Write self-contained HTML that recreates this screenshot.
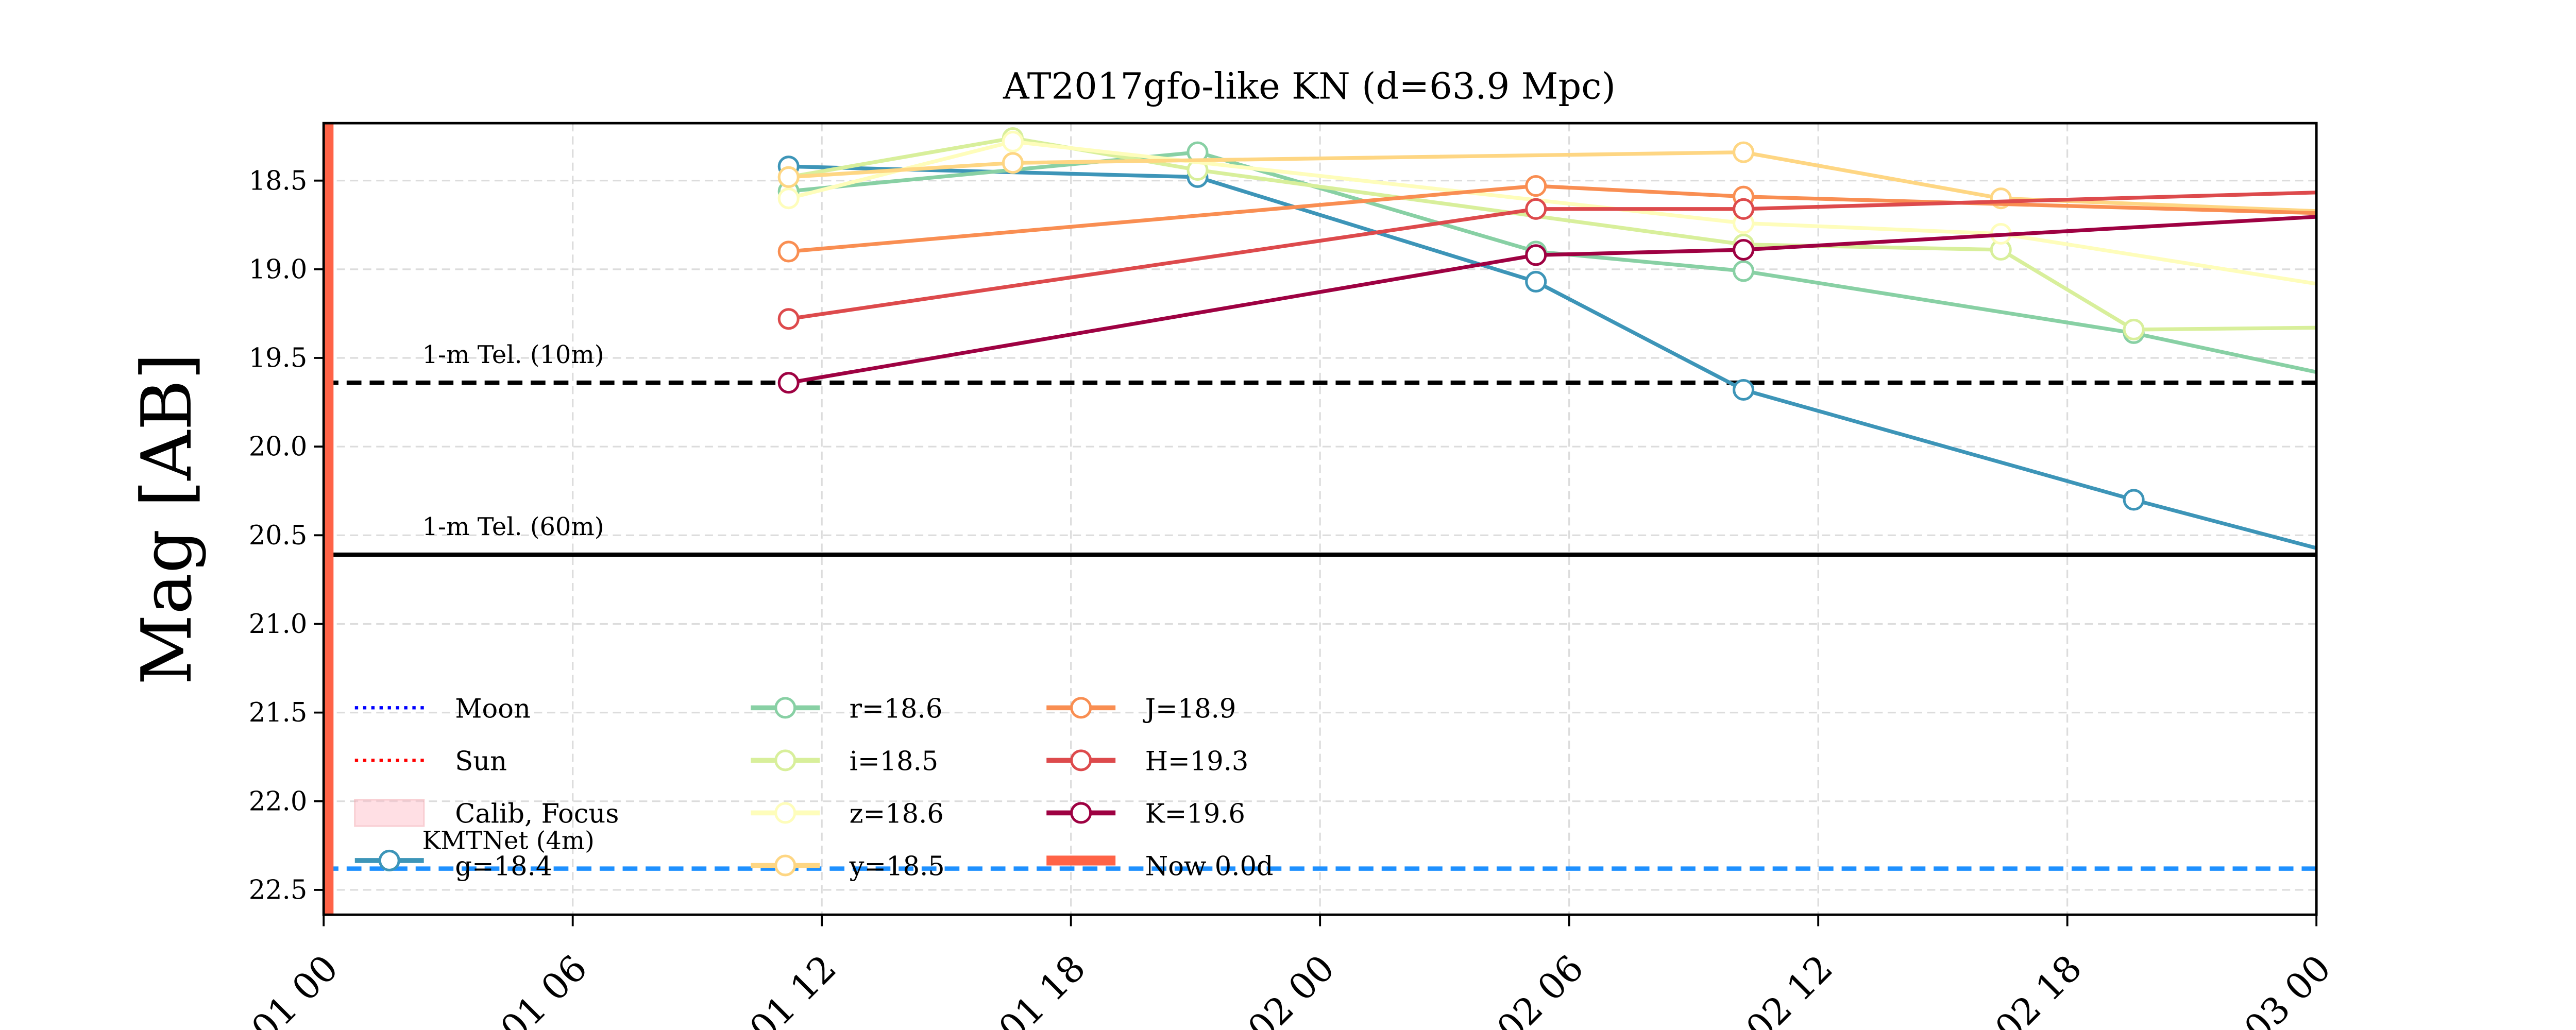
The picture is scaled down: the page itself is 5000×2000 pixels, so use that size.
<!DOCTYPE html>
<html><head><meta charset="utf-8"><style>
html,body{margin:0;padding:0;background:#fff;overflow:hidden;width:5000px;height:2000px;}
svg{display:block;overflow:hidden;}
text{font-family:"DejaVu Serif","Liberation Serif",serif;}
</style></head><body>
<svg id="chart" width="5000" height="2000" viewBox="0 0 1568 627.2" preserveAspectRatio="none" xmlns="http://www.w3.org/2000/svg">
<rect width="1568" height="627.2" fill="#fff"/>
<text x="797" y="60" font-size="22" text-anchor="middle">AT2017gfo-like KN (d=63.9 Mpc)</text>
<text transform="translate(116,316) rotate(-90)" font-size="42" text-anchor="middle">Mag [AB]</text>
<defs><clipPath id="plotclip"><rect x="197" y="75" width="1213" height="482"/></clipPath></defs>
<g id="grid"></g>
<g id="refs" clip-path="url(#plotclip)"></g>
<g id="series" clip-path="url(#plotclip)"></g>
<g id="axes"></g>
<g id="legend"></g>
</svg>
<script>
const xTickHours=[0,6,12,18,24,30,36,42,48];
const xTickLabels=["08-01 00","08-01 06","08-01 12","08-01 18","08-02 00","08-02 06","08-02 12","08-02 18","08-03 00"];
const yTicks=[18.5,19.0,19.5,20.0,20.5,21.0,21.5,22.0,22.5];
const bandNames=["g","r","i","z","y","J","H","K"];
const bandColors=["#3d95b8","#88d0a4","#d8ef9b","#fefdbb","#fed683","#f98e52","#dd4a4c","#9e0142"];
const bandLabels=["g=18.4","r=18.6","i=18.5","z=18.6","y=18.5","J=18.9","H=19.3","K=19.6"];
const gHours=[11.2,21.05,29.2,34.2,43.6,52];   const gMags=[18.42,18.48,19.07,19.68,20.30,20.82];
const rHours=[11.2,21.05,29.2,34.2,43.6,52];   const rMags=[18.56,18.34,18.90,19.01,19.36,19.78];
const iHours=[11.2,16.6,21.05,34.2,40.4,43.6,52]; const iMags=[18.48,18.26,18.44,18.86,18.89,19.34,19.32];
const zHours=[11.2,16.6,34.2,40.4,52];         const zMags=[18.60,18.28,18.74,18.80,19.23];
const yHours=[11.2,16.6,34.2,40.4,52];         const yMags=[18.48,18.40,18.34,18.60,18.71];
const JHours=[11.2,29.2,34.2,52];              const JMags=[18.90,18.53,18.59,18.71];
const HHours=[11.2,29.2,34.2,52];              const HMags=[19.28,18.66,18.66,18.54];
const KHours=[11.2,29.2,34.2,52];              const KMags=[19.64,18.92,18.89,18.65];
const limitMags=[19.64,20.61,22.38];
const limitLabels=["1-m Tel. (10m)","1-m Tel. (60m)","KMTNet (4m)"];
const nowHour=0;

const NS="http://www.w3.org/2000/svg";
const X0=197,X1=1410,Y0=75,Y1=557,HMIN=0,HMAX=48,MTOP=18.176,MBOT=22.64;
function xs(h){return X0+(h-HMIN)/(HMAX-HMIN)*(X1-X0);}
function ys(m){return Y0+(m-MTOP)/(MBOT-MTOP)*(Y1-Y0);}
function mk(tag,attrs,parent){const e=document.createElementNS(NS,tag);for(const k in attrs)e.setAttribute(k,attrs[k]);parent.appendChild(e);return e;}
const grid=document.getElementById('grid'),refs=document.getElementById('refs'),series=document.getElementById('series'),axes=document.getElementById('axes'),legend=document.getElementById('legend');

xTickHours.forEach((h,i)=>{
  const x=xs(h);
  const g=mk('line',{x1:x,x2:x,y1:Y0,y2:Y1,stroke:'#dcdcdc','stroke-width':1,'stroke-dasharray':'5,3'},grid);
  
  
  const t=mk('line',{x1:x,x2:x,y1:Y1,y2:Y1+7,stroke:'#000','stroke-width':1.2},axes);
  
  
  const lb=mk('text',{transform:`translate(${x+10},${Y1+34}) rotate(-45)`,'font-size':22,'text-anchor':'end'},axes);
  lb.textContent=xTickLabels[i];
  
  
});
yTicks.forEach(m=>{
  const y=ys(m);
  const g=mk('line',{x1:X0,x2:X1,y1:y,y2:y,stroke:'#dcdcdc','stroke-width':1,'stroke-dasharray':'5,3'},grid);
  
  
  const t=mk('line',{x1:X0-6,x2:X0,y1:y,y2:y,stroke:'#000','stroke-width':1.2},axes);
  
  
  const lb=mk('text',{x:X0-10,y:y+5.5,'font-size':16,'text-anchor':'end'},axes);
  lb.textContent=m.toFixed(1);
  
  
});

const limStyles=[{c:'#000',d:'9,5',w:2.7},{c:'#000',d:'',w:2.7},{c:'#1e90ff',d:'9,5',w:2.7}];
const limNames=['limit-1m-10m','limit-1m-60m','limit-kmtnet-4m'];
limitMags.forEach((m,i)=>{
  const s=limStyles[i];
  const l=mk('line',{x1:X0,x2:X1,y1:ys(m),y2:ys(m),stroke:s.c,'stroke-width':s.w},refs);
  if(s.d)l.setAttribute('stroke-dasharray',s.d);
  
  
  const t=mk('text',{x:257,y:ys(m)-12,'font-size':15},axes);
  t.textContent=limitLabels[i];
  
  
});
const now=mk('line',{x1:xs(nowHour)+3,x2:xs(nowHour)+3,y1:Y0,y2:Y1,stroke:'#ff6347','stroke-width':6},refs);



const H=[gHours,rHours,iHours,zHours,yHours,JHours,HHours,KHours];
const M=[gMags,rMags,iMags,zMags,yMags,JMags,HMags,KMags];
bandNames.forEach((b,i)=>{
  const grp=mk('g',{},series);
  
  
  const pts=H[i].map((h,j)=>xs(h)+','+ys(M[i][j])).join(' ');
  const pl=mk('polyline',{points:pts,fill:'none',stroke:bandColors[i],'stroke-width':2.3},grp);
  
  
  H[i].forEach((h,j)=>{
    const c=mk('circle',{cx:xs(h),cy:ys(M[i][j]),r:5.8,fill:'#fff',stroke:bandColors[i],'stroke-width':1.6},grp);
    
    
  });
});

const fr=mk('rect',{x:X0,y:Y0,width:X1-X0,height:Y1-Y0,fill:'none',stroke:'#000','stroke-width':1.5},axes);



const rowsY=[431,463,495,527];
function legText(x,y,s){const t=mk('text',{x:x,y:y+6,'font-size':16},legend);t.textContent=s;}
function legLine(x,y,color,dash,w,marker){
  const l=mk('line',{x1:x,x2:x+42,y1:y,y2:y,stroke:color,'stroke-width':w},legend);
  if(dash)l.setAttribute('stroke-dasharray',dash);
  
  
  if(marker){const c=mk('circle',{cx:x+21,cy:y,r:5.8,fill:'#fff',stroke:color,'stroke-width':1.6},legend);
    
    }
}
legLine(216,rowsY[0],'#0000ff','2,3',2,false);legText(277,rowsY[0],'Moon');
legLine(216,rowsY[1],'#ff0000','2,3',2,false);legText(277,rowsY[1],'Sun');
const cr=mk('rect',{x:216,y:rowsY[2]-8,width:42,height:16,fill:'#ffc0cb',opacity:0.5,stroke:'#f4a0a8','stroke-width':1},legend);


legText(277,rowsY[2],'Calib, Focus');
legLine(216,rowsY[3]-3,bandColors[0],'',3,true);legText(277,rowsY[3],bandLabels[0]);
[1,2,3,4].forEach((k,r)=>{legLine(457,rowsY[r],bandColors[k],'',3,true);legText(517,rowsY[r],bandLabels[k]);});
[5,6,7].forEach((k,r)=>{legLine(637,rowsY[r],bandColors[k],'',3,true);legText(697,rowsY[r],bandLabels[k]);});
legLine(637,rowsY[3]-3,'#ff6347','',6,false);legText(697,rowsY[3],'Now 0.0d');
</script>
</body></html>
